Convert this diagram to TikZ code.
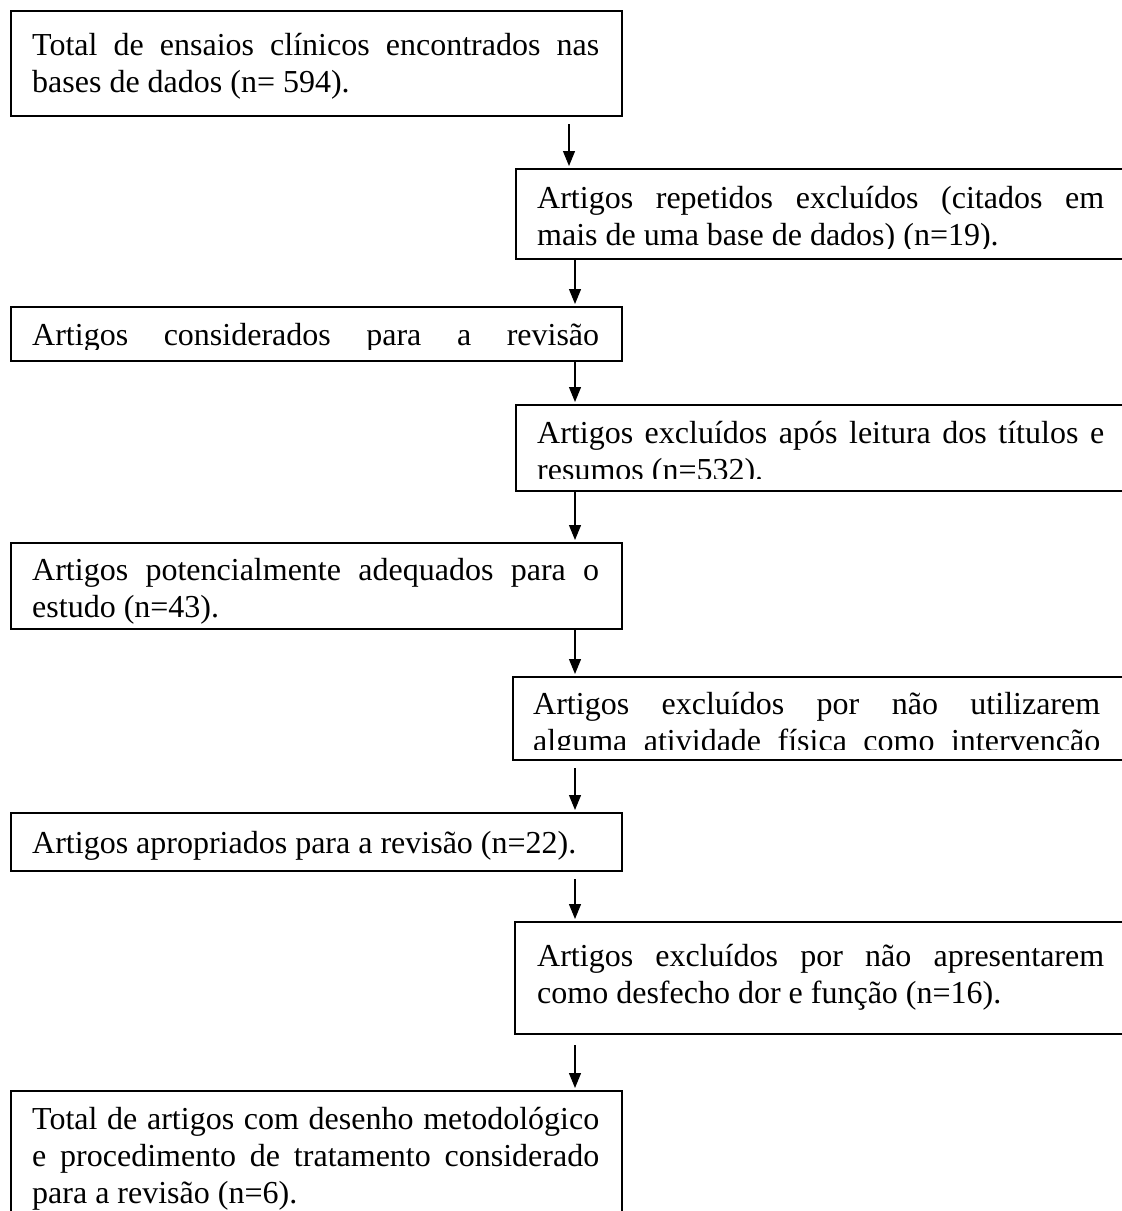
\documentclass[tikz,border=0pt]{standalone}
\usepackage{fontspec}
\setmainfont{Liberation Serif}
\usetikzlibrary{arrows.meta}
\tikzset{
  box/.style={draw=black, line width=2.4pt, inner sep=0pt, anchor=north west},
  lbox/.style={box, minimum width=611pt},
  rbox/.style={box, minimum width=612pt},
  txt/.style={anchor=base west, inner sep=0pt, font=\fontsize{32}{37}\selectfont},
  arr/.style={-{Triangle[length=15pt,width=12pt]}, line width=1.2pt, shorten >=2pt}
}
\newcommand{\jl}[1]{\makebox[567pt][s]{#1}}
\newcommand{\bx}[1]{\parbox[t]{567pt}{\fontsize{32}{37}\selectfont #1}}
\begin{document}
\begin{tikzpicture}[x=1pt,y=-1pt]
\useasboundingbox (0,0) rectangle (1122,1211);
\clip (0,0) rectangle (1122,1211);
\coordinate (L) at (569,0);
\coordinate (R) at (575,0);

% boxes
\node[lbox, minimum height=105pt] (B1) at (10,10) {};
\node[rbox, minimum height=90pt] (B2) at (515,168) {};
\node[lbox, minimum height=54pt] (B3) at (10,306) {};
\node[rbox, minimum height=86pt] (B4) at (515,404) {};
\node[lbox, minimum height=86pt] (B5) at (10,542) {};
\node[rbox, minimum height=83pt] (B6) at (512,676) {};
\node[lbox, minimum height=58pt] (B7) at (10,812) {};
\node[rbox, minimum height=112pt] (B8) at (514,921) {};
\node[lbox, minimum height=160pt] (B9) at (10,1090) {};

% texts (clipped to the inner frame)
\begin{scope}\clip (10,10) rectangle (621,105);
\node[txt] (T1) at (32,55) {\bx{\jl{Total de ensaios clínicos encontrados nas}\\bases de dados (n= 594).}};
\end{scope}
\begin{scope}\clip (515,168) rectangle (1122,248);
\node[txt] (T2) at (537,208) {\bx{\jl{Artigos repetidos excluídos (citados em}\\mais de uma base de dados) (n=19).}};
\end{scope}
\begin{scope}\clip (10,306) rectangle (621,349);
\node[txt] (T3) at (32,345) {\bx{\jl{Artigos considerados para a revisão}}};
\end{scope}
\begin{scope}\clip (515,404) rectangle (1122,478);
\node[txt] (T4) at (537,443) {\bx{\jl{Artigos excluídos após leitura dos títulos e}\\resumos (n=532).}};
\end{scope}
\begin{scope}\clip (10,542) rectangle (621,626);
\node[txt] (T5) at (32,580) {\bx{\jl{Artigos potencialmente adequados para o}\\estudo (n=43).}};
\end{scope}
\begin{scope}\clip (512,676) rectangle (1122,749);
\node[txt] (T6) at (533,714) {\bx{\jl{Artigos excluídos por não utilizarem}\\\jl{alguma atividade física como intervenção}}};
\end{scope}
\begin{scope}\clip (10,812) rectangle (621,865);
\node[txt] (T7) at (32,853) {\bx{Artigos apropriados para a revisão (n=22).}};
\end{scope}
\begin{scope}\clip (514,921) rectangle (1122,1025);
\node[txt] (T8) at (537,966) {\bx{\jl{Artigos excluídos por não apresentarem}\\como desfecho dor e função (n=16).}};
\end{scope}
\begin{scope}\clip (10,1090) rectangle (621,1211);
\node[txt] (T9) at (32,1129) {\bx{\jl{Total de artigos com desenho metodológico}\\\jl{e procedimento de tratamento considerado}\\para a revisão (n=6).}};
\end{scope}

% arrows
\draw[arr, shorten <=7pt] (B1.south -| L) -- (B2.north -| L);
\draw[arr] (B2.south -| R) -- (B3.north -| R);
\draw[arr] (B3.south -| R) -- (B4.north -| R);
\draw[arr] (B4.south -| R) -- (B5.north -| R);
\draw[arr] (B5.south -| R) -- (B6.north -| R);
\draw[arr, shorten <=7pt] (B6.south -| R) -- (B7.north -| R);
\draw[arr, shorten <=7pt] (B7.south -| R) -- (B8.north -| R);
\draw[arr, shorten <=10pt] (B8.south -| R) -- (B9.north -| R);
\end{tikzpicture}
\end{document}
